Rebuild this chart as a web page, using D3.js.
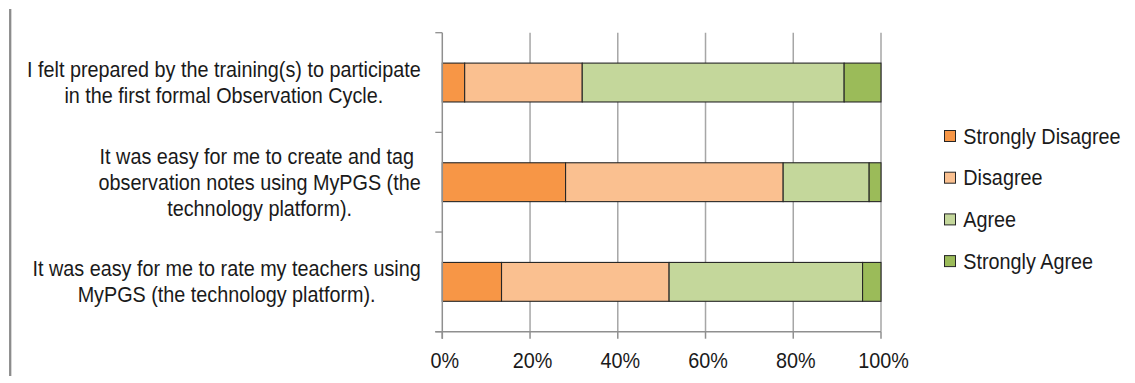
<!DOCTYPE html>
<html>
<head>
<meta charset="utf-8">
<script src="https://cdn.jsdelivr.net/npm/d3@7"></script>
<style>
  html, body { margin: 0; padding: 0; background: #fff; }
  svg { display: block; }
  text { font-family: "Liberation Sans", Arial, sans-serif; fill: #1a1a1a; white-space: pre; }
</style>
</head>
<body>
<svg id="chart" width="1135" height="383"></svg>
<script>
// ---- Data ----
const categories = [
  ["I felt prepared by the training(s) to participate", "in the first formal Observation Cycle."],
  ["It was easy for me to create and tag ", "observation notes using MyPGS (the", "technology platform)."],
  ["It was easy for me to rate my teachers using", "MyPGS (the technology platform)."]
];
const seriesNames = ["Strongly Disagree", "Disagree", "Agree", "Strongly Agree"];
const stronglyDisagree = [5.1, 28.1, 13.5];
const disagree = [26.8, 49.6, 38.2];
const agree = [59.7, 19.6, 44.1];
const stronglyAgree = [8.4, 2.7, 4.2];
const tickValues = [0, 0.2, 0.4, 0.6, 0.8, 1.0];
const seriesColors = ["#F79646", "#FAC090", "#C4D79B", "#9BBB59"];

// ---- Layout ----
const svg = d3.select("#chart");
const FS = 19.8, SY = 1.1;
const plot = { left: 442.3, right: 881, top: 32.7, bottom: 331.7 };

const x = d3.scaleLinear().domain([0, 1]).range([plot.left, plot.right]);
const y = d3.scaleBand().domain(d3.range(categories.length)).range([plot.top, plot.bottom]).paddingInner(0.61).paddingOuter(0.305);
const yTicks = d3.scaleLinear().domain([0, categories.length]).range([plot.top, plot.bottom]);

function stext(g, tx, ty, str, anchor) {
  return g.append("text")
    .attr("transform", `translate(${tx},${ty}) scale(1,${SY})`)
    .attr("text-anchor", anchor || "start")
    .style("font-size", FS + "px")
    .text(str);
}

// left frame line
svg.append("line").attr("x1", 10.2).attr("x2", 10.2).attr("y1", 9).attr("y2", 376)
  .attr("stroke", "#8c8c8c").attr("stroke-width", 2.3);

// gridlines
const gridColor = "#a6a6a6";
svg.append("g").selectAll("line").data(tickValues.slice(1)).join("line")
  .attr("x1", d => x(d)).attr("x2", d => x(d))
  .attr("y1", plot.top).attr("y2", plot.bottom)
  .attr("stroke", gridColor).attr("stroke-width", 1.5);

// stacked data
const rows = categories.map((c, i) => ({
  i,
  vals: [stronglyDisagree[i], disagree[i], agree[i], stronglyAgree[i]]
}));
const segs = [];
rows.forEach(r => {
  const tot = d3.sum(r.vals);
  let acc = 0;
  r.vals.forEach((v, k) => {
    segs.push({ i: r.i, k, x0: acc / tot, x1: (acc + v) / tot });
    acc += v;
  });
});

svg.append("g").selectAll("rect").data(segs).join("rect")
  .attr("x", d => x(d.x0)).attr("width", d => x(d.x1) - x(d.x0))
  .attr("y", d => y(d.i)).attr("height", y.bandwidth())
  .attr("fill", d => seriesColors[d.k])
  .attr("stroke", "#262626").attr("stroke-width", 1.1);

// y axis
const axisColor = "#8f8f8f";
const yAxis = svg.append("g");
yAxis.append("line").attr("x1", plot.left).attr("x2", plot.left)
  .attr("y1", plot.top).attr("y2", plot.bottom + 7).attr("stroke", axisColor).attr("stroke-width", 1.5);
yAxis.selectAll("line.t").data(d3.range(categories.length + 1)).join("line").attr("class", "t")
  .attr("x1", plot.left - 7).attr("x2", plot.left)
  .attr("y1", d => yTicks(d)).attr("y2", d => yTicks(d))
  .attr("stroke", axisColor).attr("stroke-width", 1.3);

// x axis
const xAxis = svg.append("g");
xAxis.append("line").attr("x1", plot.left - 7).attr("x2", plot.right)
  .attr("y1", plot.bottom).attr("y2", plot.bottom).attr("stroke", axisColor).attr("stroke-width", 1.5);
xAxis.selectAll("line.t").data(tickValues).join("line").attr("class", "t")
  .attr("x1", d => x(d)).attr("x2", d => x(d))
  .attr("y1", plot.bottom).attr("y2", plot.bottom + 7)
  .attr("stroke", axisColor).attr("stroke-width", 1.5);
tickValues.forEach(v => stext(xAxis, x(v) + 2.5, 368, d3.format(".0%")(v), "middle"));

// category labels
const labelRight = 420.7, lineH = 26;
categories.forEach((lines, i) => {
  const g = svg.append("g");
  const cy = y(i) + y.bandwidth() / 2;
  const n = lines.length;
  const texts = lines.map((ln, j) => stext(g, 0, cy + (j - (n - 1) / 2) * lineH + 7.5, ln, "middle"));
  const maxW = d3.max(texts, t => t.node().getComputedTextLength());
  const cx = labelRight - maxW / 2;
  texts.forEach((t, j) => t.attr("transform", `translate(${cx},${cy + (j - (n - 1) / 2) * lineH + 7.5}) scale(1,${SY})`));
});

// legend
const legend = svg.append("g");
seriesNames.forEach((name, k) => {
  const cy = 136 + k * 41.7;
  legend.append("rect").attr("x", 944.5).attr("y", cy - 5.5).attr("width", 11).attr("height", 11)
    .attr("fill", seriesColors[k]).attr("stroke", "#262626").attr("stroke-width", 1);
  stext(legend, 963.3, cy + 7.5, name, "start");
});
</script>
</body>
</html>
